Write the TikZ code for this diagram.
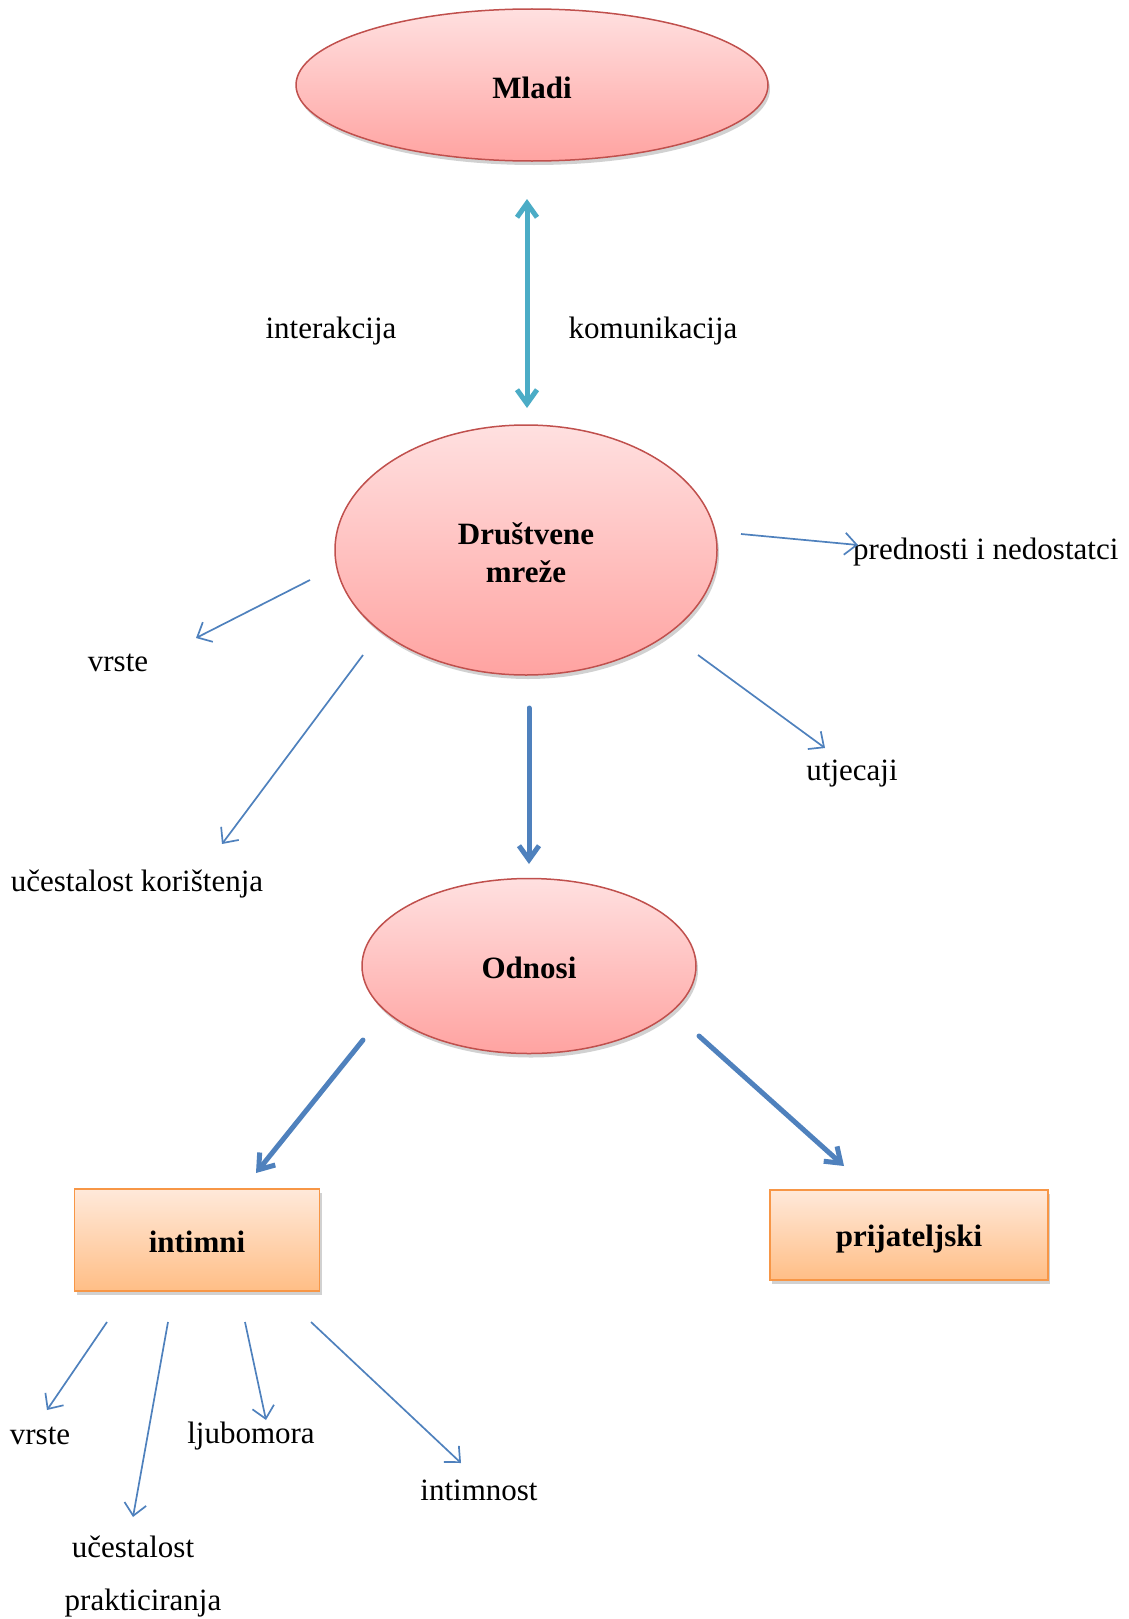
\documentclass[tikz,border=0pt]{standalone}
\usepackage{fontspec}
\setmainfont{Liberation Serif}
\usetikzlibrary{shapes.geometric,arrows.meta,shadows}
\definecolor{ellborder}{HTML}{C0504D}
\definecolor{elltop}{HTML}{FFE0E0}
\definecolor{ellbot}{HTML}{FFA3A1}
\definecolor{boxborder}{HTML}{F79646}
\definecolor{boxtop}{HTML}{FFE9DA}
\definecolor{boxbot}{HTML}{FFBE86}
\definecolor{blueline}{HTML}{4F81BD}
\definecolor{tealline}{HTML}{4BACC6}
\newcommand{\lowr}[2]{\raisebox{-#1}[\height][\depth]{#2}}
\tikzset{
  txt/.style={font=\fontsize{31}{38}\selectfont, inner sep=0pt, align=center},
  ell/.style={ellipse, draw=ellborder, line width=1.5pt, top color=elltop, bottom color=ellbot,
    inner sep=0pt, font=\fontsize{31}{38}\selectfont\bfseries, align=center,
    drop shadow={shadow xshift=2pt, shadow yshift=-4pt, opacity=0.18, fill=black}},
  obox/.style={rectangle, draw=boxborder, line width=1.5pt, top color=boxtop, bottom color=boxbot,
    inner sep=0pt, font=\fontsize{31}{38}\selectfont\bfseries,
    drop shadow={shadow xshift=2pt, shadow yshift=-4pt, opacity=0.18, fill=black}},
  thin/.style={draw=blueline, line width=1.7pt, -{Straight Barb[length=12pt,width=22pt,line width=1.7pt]}},
  thick/.style={draw=blueline, line width=5pt, line cap=round, -{Straight Barb[length=14pt,width=20pt,line width=5pt]}},
  dbl/.style={draw=tealline, line width=5pt, {Straight Barb[length=14pt,width=20pt,line width=5pt]}-{Straight Barb[length=14pt,width=20pt,line width=5pt]}},
}
\begin{document}
\begin{tikzpicture}[x=1pt,y=-1pt]
\useasboundingbox (0,0) rectangle (1128,1619);
% main ellipses
\node[ell, minimum width=472pt, minimum height=152pt] (mladi) at (532,85) {\lowr{3pt}{Mladi}};
\node[ell, minimum width=382pt, minimum height=250pt] (mreze) at (526,550) {\lowr{6pt}{\begin{tabular}{@{}c@{}}Društvene\\mreže\end{tabular}}};
\node[ell, minimum width=334pt, minimum height=175pt] (odnosi) at (529,966) {\lowr{2pt}{Odnosi}};
% boxes
\node[obox, minimum width=245pt, minimum height=102pt] (intimni) at (197,1240) {\lowr{2pt}{intimni}};
\node[obox, minimum width=278pt, minimum height=90pt] (prij) at (909,1235) {\lowr{4pt}{prijateljski}};
% labels
\node[txt] (interakcija) at (331,331) {interakcija};
\node[txt] (komunikacija) at (653,331) {komunikacija};
\node[txt, anchor=west] (prednosti) at (853,552) {prednosti i nedostatci};
\node[txt] (vrste1) at (118,663) {vrste};
\node[txt] (ucestalost1) at (137,884) {učestalost korištenja};
\node[txt] (utjecaji) at (852,774) {utjecaji};
\node[txt] (vrste2) at (40,1436) {vrste};
\node[txt] (ljubomora) at (251,1436) {ljubomora};
\node[txt] (intimnost) at (479,1490) {intimnost};
\node[txt] (ucest2) at (133,1547) {učestalost};
\node[txt] (prakt) at (143,1603) {prakticiranja};
% coordinates for free ends
\coordinate (d1) at (527,199);
\coordinate (d2) at (527,408);
\coordinate (p1) at (741,534);
\coordinate (p2) at (858,545);
\coordinate (v1) at (310,580);
\coordinate (v2) at (196,638);
\coordinate (u1) at (363,655);
\coordinate (u2) at (222,844);
\coordinate (t1) at (698,655);
\coordinate (t2) at (825,748);
\coordinate (m1) at (529,708);
\coordinate (m2) at (529,864);
\coordinate (i1) at (363,1040);
\coordinate (i2) at (256,1173);
\coordinate (r1) at (699,1036);
\coordinate (r2) at (844,1166);
\coordinate (a1) at (107,1322);
\coordinate (a2) at (47,1410);
\coordinate (b1) at (168,1322);
\coordinate (b2) at (133,1517);
\coordinate (c1) at (245,1322);
\coordinate (c2) at (266,1420);
\coordinate (e1) at (311,1322);
\coordinate (e2) at (461,1463);
% connectors
\draw[dbl] (d1) -- (d2);
\draw[thin] (p1) -- (p2);
\draw[thin] (v1) -- (v2);
\draw[thin] (u1) -- (u2);
\draw[thin] (t1) -- (t2);
\draw[thick] (m1) -- (m2);
\draw[thick] (i1) -- (i2);
\draw[thick] (r1) -- (r2);
\draw[thin] (a1) -- (a2);
\draw[thin] (b1) -- (b2);
\draw[thin] (c1) -- (c2);
\draw[thin] (e1) -- (e2);
\end{tikzpicture}
\end{document}
